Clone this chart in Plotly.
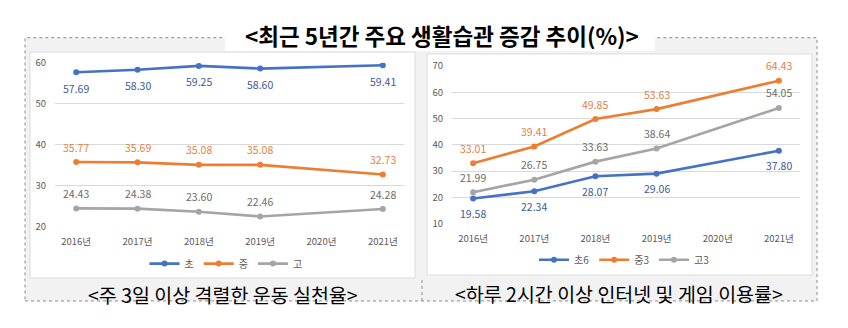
import plotly.graph_objects as go

W, H = 848, 328
FONT = "Noto Sans CJK KR"

years = ["2016년", "2017년", "2018년", "2019년", "2020년", "2021년"]

# Left panel: vigorous exercise 3+ days a week (%)
ex_names = ["초", "중", "고"]
ex_elem = [57.69, 58.30, 59.25, 58.60, None, 59.41]
ex_mid = [35.77, 35.69, 35.08, 35.08, None, 32.73]
ex_high = [24.43, 24.38, 23.60, 22.46, None, 24.28]

# Right panel: internet & game use 2h+ per day (%)
net_names = ["초6", "중3", "고3"]
net_elem = [19.58, 22.34, 28.07, 29.06, None, 37.80]
net_mid = [33.01, 39.41, 49.85, 53.63, None, 64.43]
net_high = [21.99, 26.75, 33.63, 38.64, None, 54.05]

line_colors = ["#4472C4", "#ED7D31", "#A5A5A5"]
label_colors = ["#3B5A9A", "#E3813F", "#6B6B6B"]


def px_x(v):
    return v / W


def px_y(v):
    return 1 - v / H


fig = go.Figure()

annotations = []


def add_series(values, name, idx, xa, ya, legend, label_shift):
    fig.add_trace(go.Scatter(
        x=years, y=values, name=name, mode="lines+markers",
        connectgaps=True,
        line=dict(color=line_colors[idx], width=2.6),
        marker=dict(color=line_colors[idx], size=6),
        xaxis=xa, yaxis=ya, legend=legend,
        hoverinfo="skip",
    ))
    for cat, v in zip(years, values):
        if v is None:
            continue
        annotations.append(dict(
            x=cat, y=v, xref=xa, yref=ya, text=f"{v:.2f}",
            showarrow=False, yshift=label_shift,
            font=dict(family=FONT, size=10.5, color=label_colors[idx]),
        ))


add_series(ex_elem, ex_names[0], 0, "x", "y", "legend", -16)
add_series(ex_mid, ex_names[1], 1, "x", "y", "legend", 15)
add_series(ex_high, ex_names[2], 2, "x", "y", "legend", 15)

add_series(net_elem, net_names[0], 0, "x2", "y2", "legend2", -15)
add_series(net_mid, net_names[1], 1, "x2", "y2", "legend2", 15)
add_series(net_high, net_names[2], 2, "x2", "y2", "legend2", 15)

tick_font = dict(family=FONT, size=9.5, color="#595959")
grid = "#D9D9D9"

xaxis_common = dict(type="category", showgrid=False, zeroline=False,
                    showline=False, ticks="", tickfont=tick_font,
                    ticklabelstandoff=8, fixedrange=True)
yaxis_common = dict(showgrid=True, gridcolor=grid, gridwidth=1,
                    zeroline=False, showline=False, ticks="",
                    tickfont=tick_font, dtick=10, ticklabelstandoff=8,
                    fixedrange=True)

# Background panels, chart boxes and title box
shapes = [
    dict(type="rect", xref="paper", yref="paper", layer="below",
         x0=px_x(25), x1=px_x(817), y0=px_y(306), y1=px_y(31),
         fillcolor="#F2F2F2", line=dict(color="#8C8C8C", width=1, dash="dot")),
    dict(type="line", xref="paper", yref="paper", layer="below",
         x0=px_x(422), x1=px_x(422), y0=px_y(306), y1=px_y(283),
         line=dict(color="#8C8C8C", width=1, dash="dot")),
    dict(type="rect", xref="paper", yref="paper", layer="below",
         x0=px_x(30), x1=px_x(415), y0=px_y(282), y1=px_y(46),
         fillcolor="white", line=dict(color="#DCDCDC", width=1)),
    dict(type="rect", xref="paper", yref="paper", layer="below",
         x0=px_x(427), x1=px_x(812), y0=px_y(279), y1=px_y(48),
         fillcolor="white", line=dict(color="#DCDCDC", width=1)),
    dict(type="rect", xref="paper", yref="paper", layer="below",
         x0=px_x(225), x1=px_x(655), y0=px_y(45), y1=px_y(15),
         fillcolor="white", line=dict(width=0)),
]

annotations += [
    dict(text="<최근 5년간 주요 생활습관 증감 추이(%)>", xref="paper", yref="paper",
         x=px_x(442), y=px_y(28), showarrow=False, xanchor="center", yanchor="middle",
         font=dict(family=FONT, size=22.5, color="black", weight=700)),
    dict(text="<주 3일 이상 격렬한 운동 실천율>", xref="paper", yref="paper",
         x=px_x(223), y=px_y(299), showarrow=False, xanchor="center", yanchor="middle",
         font=dict(family=FONT, size=19.5, color="black")),
    dict(text="<하루 2시간 이상 인터넷 및 게임 이용률>", xref="paper", yref="paper",
         x=px_x(619), y=px_y(298), showarrow=False, xanchor="center", yanchor="middle",
         font=dict(family=FONT, size=19.5, color="black")),
]

legend_common = dict(orientation="h", xanchor="center", yanchor="middle",
                     bgcolor="rgba(0,0,0,0)", font=dict(family=FONT, size=10, color="#595959"),
                     itemwidth=30, tracegroupgap=0, itemclick=False, itemdoubleclick=False)

fig.update_layout(
    width=W, height=H,
    margin=dict(l=0, r=0, t=0, b=0),
    paper_bgcolor="white",
    plot_bgcolor="rgba(0,0,0,0)",
    showlegend=True,
    xaxis=dict(domain=[px_x(55), px_x(404)], anchor="y", **xaxis_common),
    yaxis=dict(domain=[px_y(228.3), px_y(57.3)], range=[20, 60], anchor="x", **yaxis_common),
    xaxis2=dict(domain=[px_x(452), px_x(800)], anchor="y2", **xaxis_common),
    yaxis2=dict(domain=[px_y(225.3), px_y(60.7)], range=[10, 70], anchor="x2", **yaxis_common),
    legend=dict(x=px_x(226), y=px_y(267), **legend_common),
    legend2=dict(x=px_x(624), y=px_y(263), **legend_common),
    shapes=shapes,
    annotations=annotations,
)

fig.write_html("out.html", config=dict(displayModeBar=False))
